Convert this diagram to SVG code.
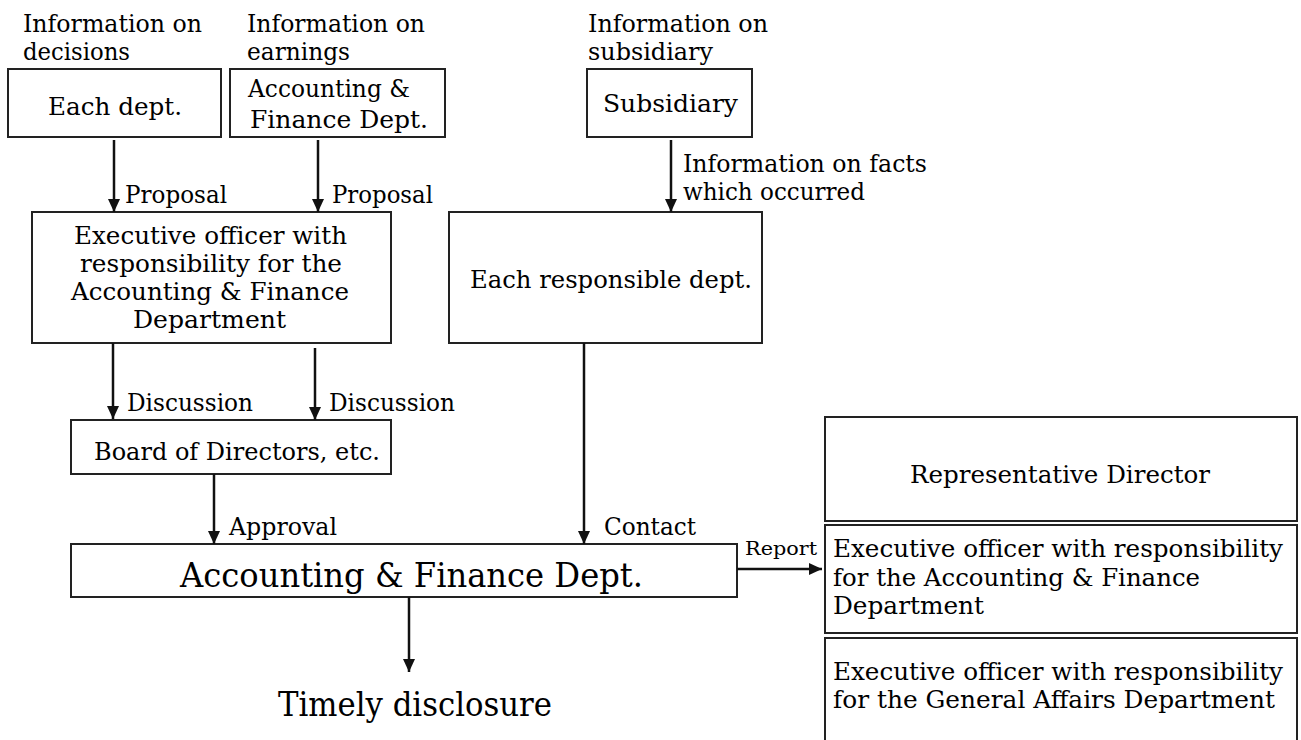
<svg xmlns="http://www.w3.org/2000/svg" width="1301" height="740" viewBox="0 0 1301 740">
<style>
text{font-family:"DejaVu Serif","Liberation Serif",serif;fill:#000;font-size:25px}
.box{fill:#fff;stroke:#222;stroke-width:2}
.conn{stroke:#111;stroke-width:2.5;fill:none;marker-end:url(#ah)}
.big{font-size:33px}
.sm{font-size:19px}
</style>
<defs>
<marker id="ah" markerUnits="userSpaceOnUse" markerWidth="13" markerHeight="12" refX="13" refY="6" orient="auto">
<path d="M0,0 L13,6 L0,12 z" fill="#111"/>
</marker>
</defs>
<rect width="1301" height="740" fill="#fff"/>

<g id="labels">
<text x="23" y="32" textLength="179" lengthAdjust="spacingAndGlyphs">Information on</text>
<text x="23" y="60" textLength="107" lengthAdjust="spacingAndGlyphs">decisions</text>
<text x="247" y="32" textLength="178" lengthAdjust="spacingAndGlyphs">Information on</text>
<text x="247" y="60" textLength="103" lengthAdjust="spacingAndGlyphs">earnings</text>
<text x="588" y="32" textLength="180" lengthAdjust="spacingAndGlyphs">Information on</text>
<text x="588" y="60" textLength="125" lengthAdjust="spacingAndGlyphs">subsidiary</text>
</g>

<g id="each-dept">
<rect class="box" x="8" y="69" width="213" height="68"/>
<text x="48" y="115" textLength="134" lengthAdjust="spacingAndGlyphs">Each dept.</text>
</g>

<g id="af-dept-top">
<rect class="box" x="230" y="69" width="215" height="68"/>
<text x="248" y="97" textLength="162" lengthAdjust="spacingAndGlyphs">Accounting &amp;</text>
<text x="250" y="128" textLength="178" lengthAdjust="spacingAndGlyphs">Finance Dept.</text>
</g>

<g id="subsidiary">
<rect class="box" x="587" y="69" width="165" height="68"/>
<text x="603" y="112" textLength="135" lengthAdjust="spacingAndGlyphs">Subsidiary</text>
</g>

<g id="exec-af">
<rect class="box" x="32" y="212" width="359" height="131"/>
<text x="74" y="244" textLength="273" lengthAdjust="spacingAndGlyphs">Executive officer with</text>
<text x="80" y="272" textLength="262" lengthAdjust="spacingAndGlyphs">responsibility for the</text>
<text x="71" y="300" textLength="278" lengthAdjust="spacingAndGlyphs">Accounting &amp; Finance</text>
<text x="133" y="328" textLength="153" lengthAdjust="spacingAndGlyphs">Department</text>
</g>

<g id="each-resp-dept">
<rect class="box" x="449" y="212" width="313" height="131"/>
<text x="470" y="288" textLength="282" lengthAdjust="spacingAndGlyphs">Each responsible dept.</text>
</g>

<g id="board">
<rect class="box" x="71" y="420" width="320" height="54"/>
<text x="94" y="460" textLength="286" lengthAdjust="spacingAndGlyphs">Board of Directors, etc.</text>
</g>

<g id="af-dept-main">
<rect class="box" x="71" y="544" width="666" height="53"/>
<text class="big" x="180" y="587" textLength="463" lengthAdjust="spacingAndGlyphs">Accounting &amp; Finance Dept.</text>
</g>

<g id="timely">
<text class="big" x="278" y="716" textLength="274" lengthAdjust="spacingAndGlyphs">Timely disclosure</text>
</g>

<g id="rep-director">
<rect class="box" x="825" y="417" width="472" height="104"/>
<text x="910" y="483" textLength="300" lengthAdjust="spacingAndGlyphs">Representative Director</text>
</g>

<g id="exec-af-right">
<rect class="box" x="825" y="525" width="472" height="108"/>
<text x="833" y="557" textLength="450" lengthAdjust="spacingAndGlyphs">Executive officer with responsibility</text>
<text x="833" y="586" textLength="367" lengthAdjust="spacingAndGlyphs">for the Accounting &amp; Finance</text>
<text x="833" y="614" textLength="151" lengthAdjust="spacingAndGlyphs">Department</text>
</g>

<g id="exec-ga-right">
<rect class="box" x="825" y="638" width="472" height="130"/>
<text x="833" y="680" textLength="450" lengthAdjust="spacingAndGlyphs">Executive officer with responsibility</text>
<text x="833" y="708" textLength="442" lengthAdjust="spacingAndGlyphs">for the General Affairs Department</text>
</g>

<g id="connectors">
<line class="conn" x1="114" y1="140" x2="114" y2="212"/>
<line class="conn" x1="318" y1="140" x2="318" y2="212"/>
<line class="conn" x1="671" y1="140" x2="671" y2="212"/>
<line class="conn" x1="113" y1="343" x2="113" y2="419"/>
<line class="conn" x1="315" y1="348" x2="315" y2="420"/>
<line class="conn" x1="214" y1="474" x2="214" y2="544"/>
<line class="conn" x1="584" y1="343" x2="584" y2="544"/>
<line class="conn" x1="737" y1="569" x2="822" y2="569"/>
<line class="conn" x1="409" y1="597" x2="409" y2="672"/>
<text x="125" y="203" textLength="102" lengthAdjust="spacingAndGlyphs">Proposal</text>
<text x="332" y="203" textLength="101" lengthAdjust="spacingAndGlyphs">Proposal</text>
<text x="683" y="172" textLength="244" lengthAdjust="spacingAndGlyphs">Information on facts</text>
<text x="683" y="200" textLength="182" lengthAdjust="spacingAndGlyphs">which occurred</text>
<text x="127" y="411" textLength="126" lengthAdjust="spacingAndGlyphs">Discussion</text>
<text x="329" y="411" textLength="126" lengthAdjust="spacingAndGlyphs">Discussion</text>
<text x="229" y="535" textLength="108" lengthAdjust="spacingAndGlyphs">Approval</text>
<text x="604" y="535" textLength="92" lengthAdjust="spacingAndGlyphs">Contact</text>
<text class="sm" x="745" y="555" textLength="72" lengthAdjust="spacingAndGlyphs">Report</text>
</g>
</svg>
